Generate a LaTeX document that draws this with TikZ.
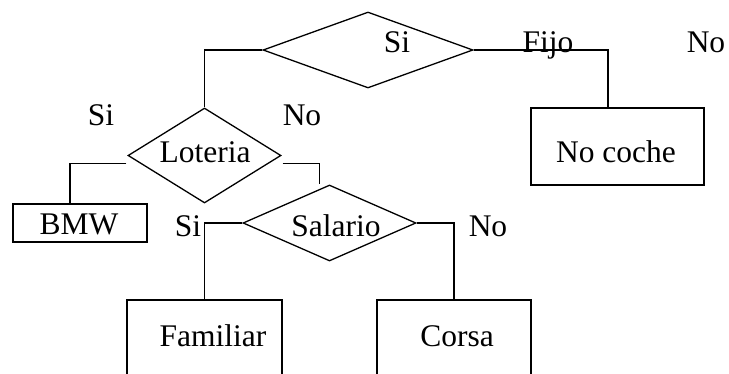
\documentclass[tikz,border=0pt]{standalone}
\usepackage{fontspec}
\setmainfont{Liberation Serif}
\usetikzlibrary{shapes.geometric}
\begin{document}
\begin{tikzpicture}[x=1pt,y=-1pt,
  every node/.style={font=\fontsize{31.5}{36}\selectfont},
  dec/.style={draw, line width=1.3pt, diamond, inner sep=0pt, aspect=1},
  box/.style={draw, line width=1.3pt, rectangle, inner sep=0pt},
  lbl/.style={anchor=base, inner sep=0pt},
  conn/.style={line width=1.3pt}]
\useasboundingbox (0,0) rectangle (729,374);
\clip (0,0) rectangle (729,374);
% decision shapes
\node[dec, minimum width=210pt, minimum height=76pt] (top) at (368,50) {};
\node[dec, minimum width=153pt, minimum height=95pt] (lot) at (204.5,155.5) {};
\node[dec, minimum width=173pt, minimum height=76pt] (sal) at (329.5,223) {};
% result boxes
\node[box, minimum width=173pt, minimum height=77pt] (noc) at (617.5,146.5) {};
\node[box, minimum width=134pt, minimum height=38pt] (bmw) at (80,223) {};
\node[box, minimum width=155pt, minimum height=120pt] (fam) at (204.5,360) {};
\node[box, minimum width=154pt, minimum height=120pt] (cor) at (454,360) {};
% texts
\node[lbl] (tSi) at (397,53) {Si};
\node[lbl] (tFijo) at (548,53) {Fijo};
\node[lbl] (tNo) at (706,53) {No};
\node[lbl] (tNoc) at (616,163) {No coche};
\node[lbl] (lSi) at (101,126) {Si};
\node[lbl] (lNo) at (302,126) {No};
\node[lbl] (tLot) at (205,163) {Loteria};
\node[lbl] (tBmw) at (79,235) {BMW};
\node[lbl] (sSi) at (188,237) {Si};
\node[lbl] (tSal) at (336,237) {Salario};
\node[lbl] (sNo) at (488,237) {No};
\node[lbl] (tFam) at (213,347) {Familiar};
\node[lbl] (tCor) at (457,347) {Corsa};
% connectors
\draw[conn] (top.west) -| (lot.north);
\draw[conn] (top.east) -| ([xshift=-9.5pt]noc.north);
\draw[conn] ([shift={(-1pt,-8pt)}]lot.west) -| ([xshift=-10pt]bmw.north);
\draw[conn] ([shift={(1pt,-8pt)}]lot.east) -| ([xshift=-10pt]sal.north);
\draw[conn] (sal.west) -| (fam.north);
\draw[conn] (sal.east) -| (cor.north);
\end{tikzpicture}
\end{document}
